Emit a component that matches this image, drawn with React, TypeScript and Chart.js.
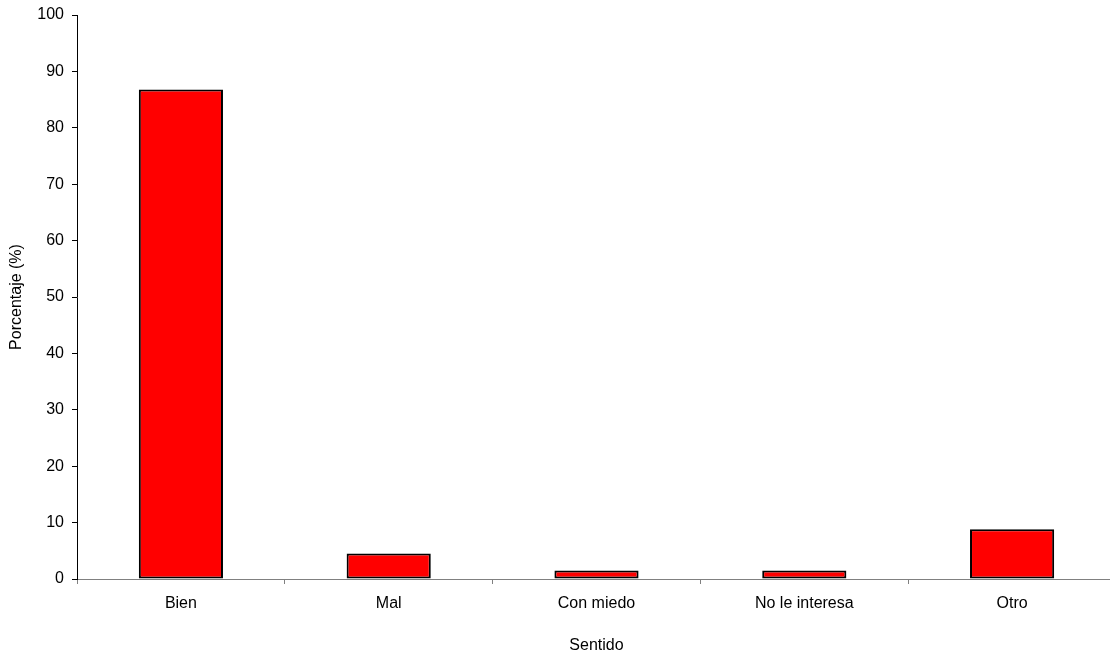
import React, { useEffect, useRef } from "react";
import { Chart, registerables } from "chart.js";

Chart.register(...registerables);

const categories = ["Bien", "Mal", "Con miedo", "No le interesa", "Otro"];
const values = [86.8, 4.5, 1.5, 1.5, 8.8];
const yTicks = [0, 10, 20, 30, 40, 50, 60, 70, 80, 90, 100];
const xTitle = "Sentido";
const yTitle = "Porcentaje (%)";

export default function App() {
  const ref = useRef<HTMLCanvasElement>(null);
  useEffect(() => {
    document.body.style.margin = "0";
    const font = { family: "'Liberation Sans', Arial, sans-serif", size: 16 };
    const chart = new Chart(ref.current!, {
      type: "bar",
      data: {
        labels: categories,
        datasets: [
          {
            data: values,
            backgroundColor: "#FF0000",
            borderColor: "#000000",
            borderWidth: 2,
            borderSkipped: false,
            barPercentage: 0.405,
            categoryPercentage: 1,
          },
        ],
      },
      options: {
        animation: false,
        responsive: false,
        maintainAspectRatio: false,
        layout: { padding: { top: 15, right: 0, bottom: 0, left: 0 } },
        plugins: { legend: { display: false }, tooltip: { enabled: false } },
        scales: {
          x: {
            grid: {
              offset: true,
              drawOnChartArea: false,
              drawTicks: true,
              tickLength: 5,
              color: "#808080",
            },
            border: { color: "#808080", width: 1 },
            ticks: { color: "#000", font, padding: 10, maxRotation: 0 },
            title: {
              display: true,
              text: xTitle,
              color: "#000",
              font,
              padding: { top: 0, bottom: 3 },
            },
            afterFit: (s: any) => {
              s.height = 79;
              s.paddingLeft = 0;
              s.paddingRight = 0;
            },
          },
          y: {
            min: 0,
            max: 100,
            afterBuildTicks: (s: any) => {
              s.ticks = yTicks.map((v) => ({ value: v }));
            },
            grid: {
              drawOnChartArea: false,
              drawTicks: true,
              tickLength: 5,
              color: "#000",
            },
            border: { color: "#000", width: 1 },
            ticks: { color: "#000", font, padding: 8 },
            title: {
              display: true,
              text: yTitle,
              color: "#000",
              font,
              padding: { top: 7, bottom: 0 },
            },
            afterFit: (s: any) => {
              s.width = 77;
              s.paddingTop = 0;
              s.paddingBottom = 0;
            },
          },
        },
      },
    });
    return () => chart.destroy();
  }, []);
  return (
    <div style={{ position: "absolute", left: 0, top: 0, width: 1110, height: 658, overflow: "hidden", background: "#fff" }}>
      <canvas ref={ref} width={1116} height={658} style={{ width: 1116, height: 658, display: "block" }} />
    </div>
  );
}
